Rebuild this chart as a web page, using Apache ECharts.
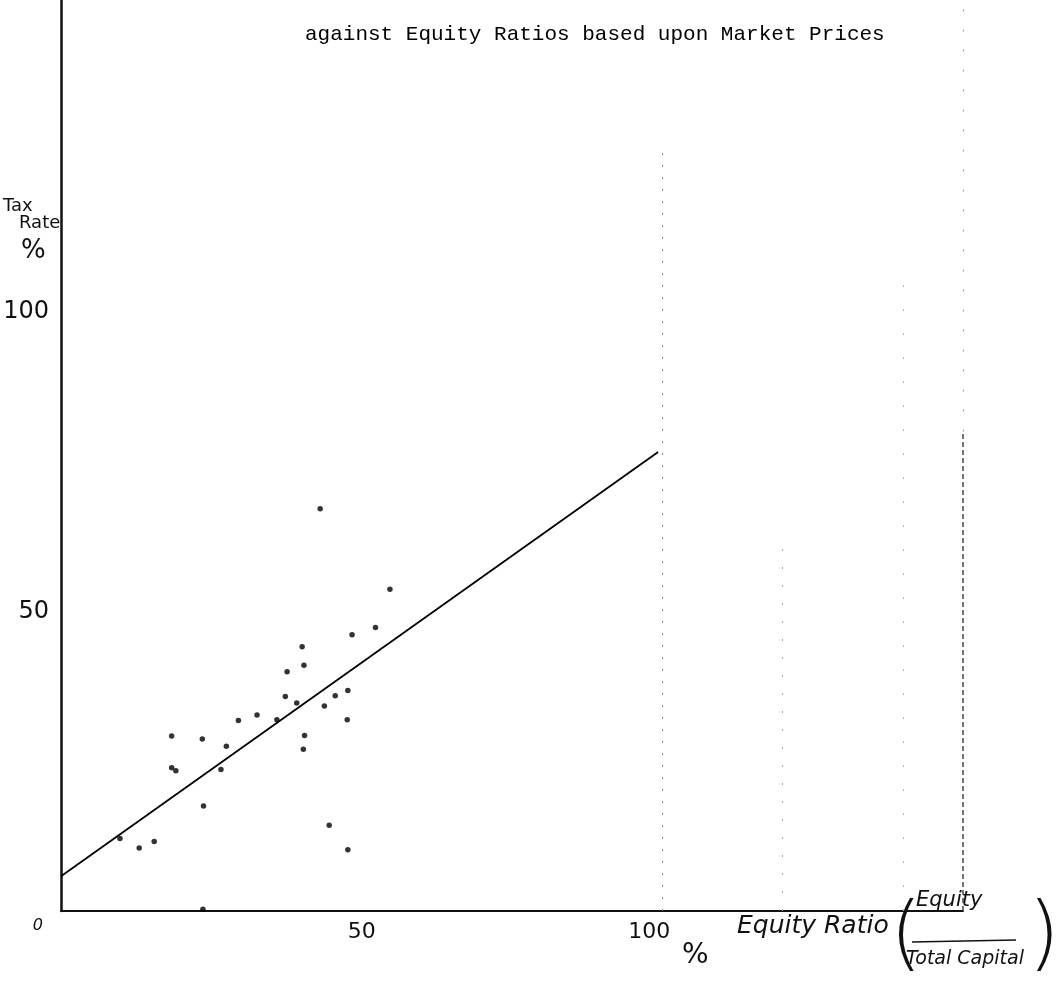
<!DOCTYPE html>
<html>
<head>
<meta charset="utf-8">
<script src="https://cdn.jsdelivr.net/npm/echarts@6/dist/echarts.min.js"></script>
<style>
  html, body { margin: 0; padding: 0; background: #fff; }
  #chart { width: 1056px; height: 992px; }
</style>
</head>
<body>
<div id="chart"></div>
<script>
// Equity ratio (%) of each company
const equityRatio = [
  43.1, 54.7, 52.3, 48.4, 40.1, 40.4, 37.6, 37.3, 39.2, 45.6,
  47.7, 43.8, 32.6, 29.5, 35.9, 47.6, 40.5, 40.3, 18.4, 23.5,
  27.5, 18.4, 19.1, 26.6, 23.7, 9.8, 13.0, 15.5, 44.6, 47.7, 23.6
];
// Tax rate (%) of each company
const taxRate = [
  67.1, 53.7, 47.3, 46.1, 44.1, 41.0, 39.9, 35.8, 34.7, 35.9,
  36.8, 34.2, 32.7, 31.8, 31.9, 31.9, 29.3, 27.0, 29.2, 28.7,
  27.5, 23.9, 23.4, 23.6, 17.5, 12.1, 10.5, 11.6, 14.3, 10.2, 0.3
];
// Fitted line, end points
const fitX = [0, 99.3];
const fitY = [5.8, 76.6];
// Ruled guide lines on the sheet: x position, lower and upper end
const guideX = [100, 120, 140, 150, 150];
const guideFrom = [0, 0, 0, 0, 80];
const guideTo = [127, 62, 105, 80, 152];
// Tick labels
const xTickLabels = { 50: '50', 100: '100' };
const yTickLabels = { 0: '0', 50: '50', 100: '100' };

const titleText = 'against Equity Ratios based upon Market Prices';
const hand = "'DejaVu Sans', sans-serif";

const chart = echarts.init(document.getElementById('chart'), null, { renderer: 'canvas' });

const guideStyles = [
  { color: '#8a8a8a', width: 1, type: [2, 10] },
  { color: '#aaaaaa', width: 1, type: [2, 16] },
  { color: '#b5b5b5', width: 1, type: [2, 22] },
  { color: '#444444', width: 1.5, type: [5, 3] },
  { color: '#999999', width: 1, type: [2, 18] }
];

const option = {
  backgroundColor: '#ffffff',
  animation: false,
  grid: { left: 61, right: 93, top: 0, bottom: 81, containLabel: false },
  xAxis: {
    type: 'value', min: 0, max: 150, interval: 50,
    axisLine: { show: true, lineStyle: { color: '#111', width: 2 } },
    axisTick: { show: false },
    splitLine: { show: false },
    axisLabel: {
      margin: 10,
      formatter: v => xTickLabels[v] ? (v === 100 ? '{h|' + xTickLabels[v] + '}' : xTickLabels[v]) : '',
      color: '#111', fontFamily: hand, fontSize: 22,
      rich: { h: { fontFamily: hand, fontSize: 22, color: '#111', padding: [0, 26, 8, 0] } }
    }
  },
  yAxis: {
    type: 'value', min: 0, max: 152, interval: 50,
    axisLine: { show: true, lineStyle: { color: '#111', width: 2.5 } },
    axisTick: { show: false },
    splitLine: { show: false },
    axisLabel: {
      margin: 12,
      formatter: v => yTickLabels[v] ? (v === 0 ? '{z|' + yTickLabels[v] + '}' : yTickLabels[v]) : '',
      color: '#111', fontFamily: hand, fontSize: 24,
      rich: { z: { fontFamily: hand, fontSize: 16, fontStyle: 'italic', color: '#111', padding: [30, 6, 0, 0] } }
    }
  },
  graphic: [
    { type: 'text', left: 305, top: 24,
      style: { text: titleText, font: "21px 'Liberation Mono', monospace", fill: '#000' } },
    // y axis name
    { type: 'text', left: 3, top: 197, style: { text: 'Tax', font: "18px 'DejaVu Sans', sans-serif", fill: '#111' } },
    { type: 'text', left: 19, top: 214, style: { text: 'Rate', font: "18px 'DejaVu Sans', sans-serif", fill: '#111' } },
    { type: 'text', left: 21, top: 238, style: { text: '%', font: "26px 'DejaVu Sans', sans-serif", fill: '#111' } },
    // x axis name
    { type: 'text', left: 682, top: 942, style: { text: '%', font: "28px 'DejaVu Sans', sans-serif", fill: '#111' } },
    { type: 'text', left: 737, top: 914, style: { text: 'Equity Ratio', font: "italic 25px 'DejaVu Sans', sans-serif", fill: '#111' } },
    { type: 'text', left: 890, top: 898, style: { text: '(', font: "300 82px 'DejaVu Sans', sans-serif", fill: '#111' } },
    { type: 'text', left: 1028, top: 898, style: { text: ')', font: "300 82px 'DejaVu Sans', sans-serif", fill: '#111' } },
    { type: 'text', left: 916, top: 890, style: { text: 'Equity', font: "italic 21px 'DejaVu Sans', sans-serif", fill: '#111' } },
    { type: 'line', shape: { x1: 912, y1: 942, x2: 1016, y2: 940 }, style: { stroke: '#111', lineWidth: 1.6 } },
    { type: 'text', left: 906, top: 950, style: { text: 'Total Capital', font: "italic 19px 'DejaVu Sans', sans-serif", fill: '#111' } }
  ],
  series: [
    {
      name: 'Companies', type: 'scatter',
      data: equityRatio.map((x, i) => [x, taxRate[i]]),
      symbol: 'circle', symbolSize: 5.5,
      itemStyle: { color: '#000' },
      markLine: {
        silent: true, symbol: ['none', 'none'], label: { show: false },
        data: guideX.map((x, i) => [
          { coord: [x, guideFrom[i]], lineStyle: guideStyles[i] },
          { coord: [x, guideTo[i]] }
        ])
      }
    },
    {
      name: 'Fit', type: 'line',
      data: fitX.map((x, i) => [x, fitY[i]]),
      showSymbol: false,
      lineStyle: { color: '#000', width: 1.8 }
    }
  ]
};
chart.setOption(option);
</script>
</body>
</html>
